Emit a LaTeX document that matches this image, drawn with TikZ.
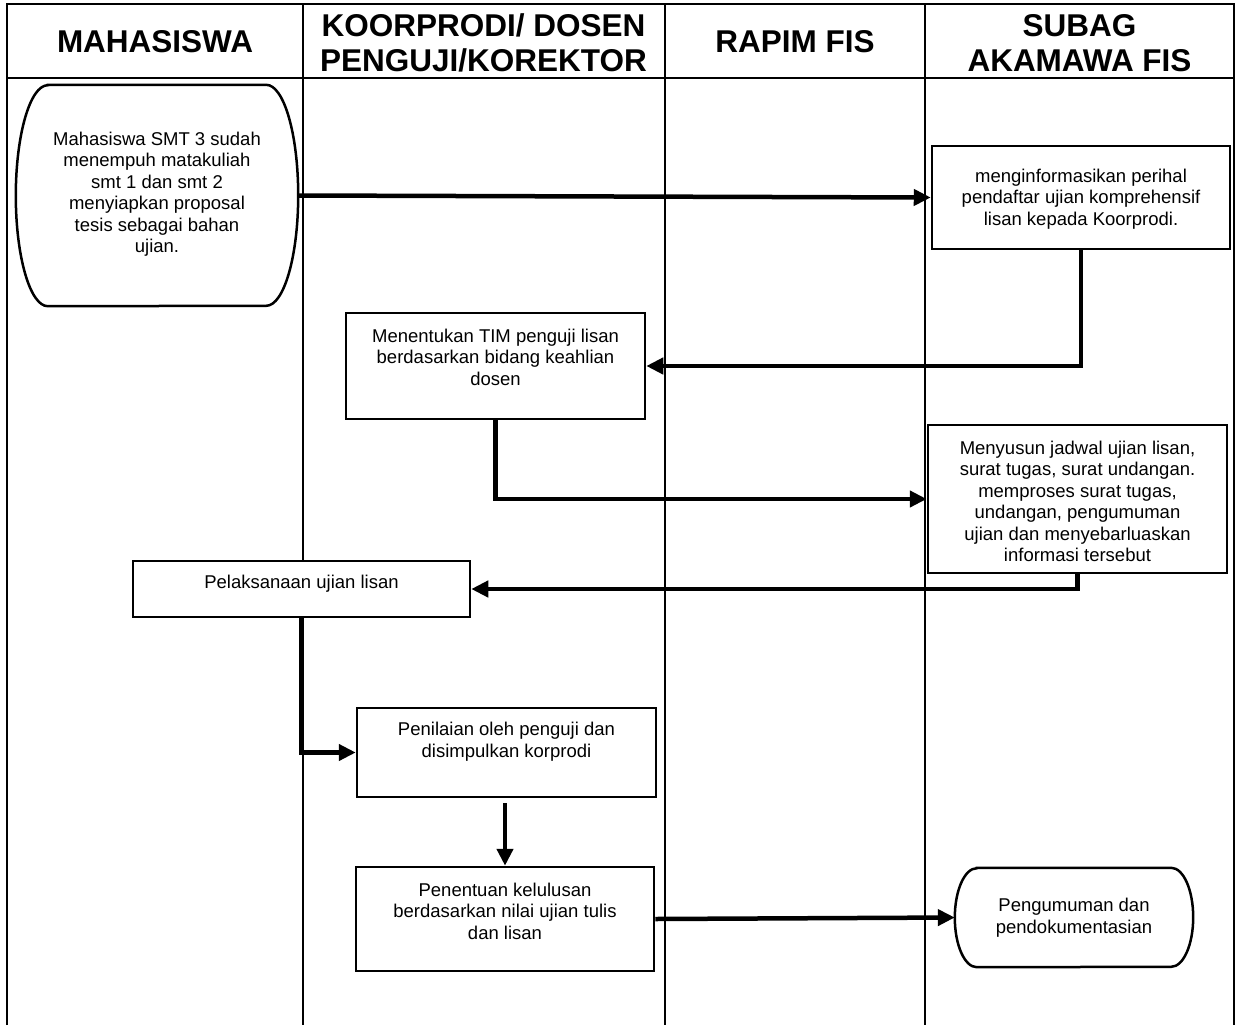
\documentclass[tikz,border=0pt]{standalone}
\usepackage{fontspec}
\setmainfont{Liberation Sans}
\usetikzlibrary{arrows.meta}
\begin{document}
\begin{tikzpicture}[x=1pt,y=-1pt,
  frame/.style={line width=2pt},
  boxline/.style={line width=2.5pt, fill=white},
  box/.style={draw, fill=white, line width=2.5pt, rectangle, inner sep=0pt},
  shapeonly/.style={draw=none, rectangle, inner sep=0pt},
  txt/.style={align=center, font=\fontsize{18.5}{21.5}\selectfont, inner sep=0pt},
  hdr/.style={align=center, font=\fontsize{31.5}{35}\selectfont\bfseries, inner sep=0pt},
  conn/.style={line width=4.5pt, -{Triangle[length=17pt,width=16pt]}}
]
\useasboundingbox (0,0) rectangle (1236,1025);
\fill[white] (0,0) rectangle (1236,1025);

% swimlane frame
\draw[frame] (7,1025) -- (7,4) -- (1234,4) -- (1234,1025);
\draw[frame] (7,78) -- (1234,78);
\draw[frame] (302.5,4) -- (302.5,1025);
\draw[frame] (665,4) -- (665,1025);
\draw[frame] (925,4) -- (925,1025);

% headers
\node[hdr] (h1) at (155,42) {MAHASISWA};
\node[hdr] (h2) at (483.5,43) {KOORPRODI/ DOSEN\\PENGUJI/KOREKTOR};
\node[hdr] (h3) at (795,42) {RAPIM FIS};
\node[hdr] (h4) at (1079.5,43) {SUBAG\\AKAMAWA FIS};

% start terminator
\node[shapeonly, minimum width=282pt, minimum height=221pt] (start) at (157,195.5) {};
\draw[boxline] ([xshift=32pt]start.north west) -- ([xshift=-32pt]start.north east)
  arc[start angle=-90, end angle=90, x radius=32, y radius=110.5]
  -- ([xshift=32pt]start.south west)
  arc[start angle=90, end angle=270, x radius=32, y radius=110.5] -- cycle;
\node[txt] (tstart) at (157,194) {Mahasiswa SMT 3 sudah\\menempuh matakuliah\\smt 1 dan smt 2\\menyiapkan proposal\\tesis sebagai bahan\\ujian.};

% boxes
\node[box, minimum width=298pt, minimum height=103pt] (b1) at (1081,197.5) {};
\node[txt] (t1) at (1081,199) {menginformasikan perihal\\pendaftar ujian komprehensif\\lisan kepada Koorprodi.};

\node[box, minimum width=299pt, minimum height=106pt] (b2) at (495.5,366) {};
\node[txt] (t2) at (495.5,357) {Menentukan TIM penguji lisan\\berdasarkan bidang keahlian\\dosen};

\node[box, minimum width=299pt, minimum height=148pt] (b3) at (1077.5,499) {};
\node[txt] (t3) at (1077.5,501.5) {Menyusun jadwal ujian lisan,\\surat tugas, surat undangan.\\memproses surat tugas,\\undangan, pengumuman\\ujian dan menyebarluaskan\\informasi tersebut};

\node[box, minimum width=337pt, minimum height=56pt] (b4) at (301.5,589) {};
\node[txt] (t4) at (301.5,584) {Pelaksanaan ujian lisan};

\node[box, minimum width=299pt, minimum height=89pt] (b5) at (506.5,752.5) {};
\node[txt] (t5) at (506.5,741.5) {Penilaian oleh penguji dan\\disimpulkan korprodi};

\node[box, minimum width=298pt, minimum height=104pt] (b6) at (505,919) {};
\node[txt] (t6) at (505,911) {Penentuan kelulusan\\berdasarkan nilai ujian tulis\\dan lisan};

% end terminator
\node[shapeonly, minimum width=238pt, minimum height=99pt] (finish) at (1074,917.5) {};
\draw[boxline] ([xshift=22pt]finish.north west) -- ([xshift=-22pt]finish.north east)
  arc[start angle=-90, end angle=90, x radius=22, y radius=49.5]
  -- ([xshift=22pt]finish.south west)
  arc[start angle=90, end angle=270, x radius=22, y radius=49.5] -- cycle;
\node[txt] (tfinish) at (1074,917.5) {Pengumuman dan\\pendokumentasian};

% connectors
\draw[conn] (start.east) -- (b1.west);
\draw[conn] (b1.south) |- (b2.east);
\draw[conn] (b2.south) |- (b3.west);
\draw[conn] (b3.south) |- (b4.east);
\draw[conn] (b4.south) |- (b5.west);
\path (b5.south -| b6.north) ++(0,5) coordinate (b5out);
\draw[conn] (b5out) -- (b6.north);
\draw[conn] (b6.east) -- (finish.west);
\end{tikzpicture}
\end{document}
